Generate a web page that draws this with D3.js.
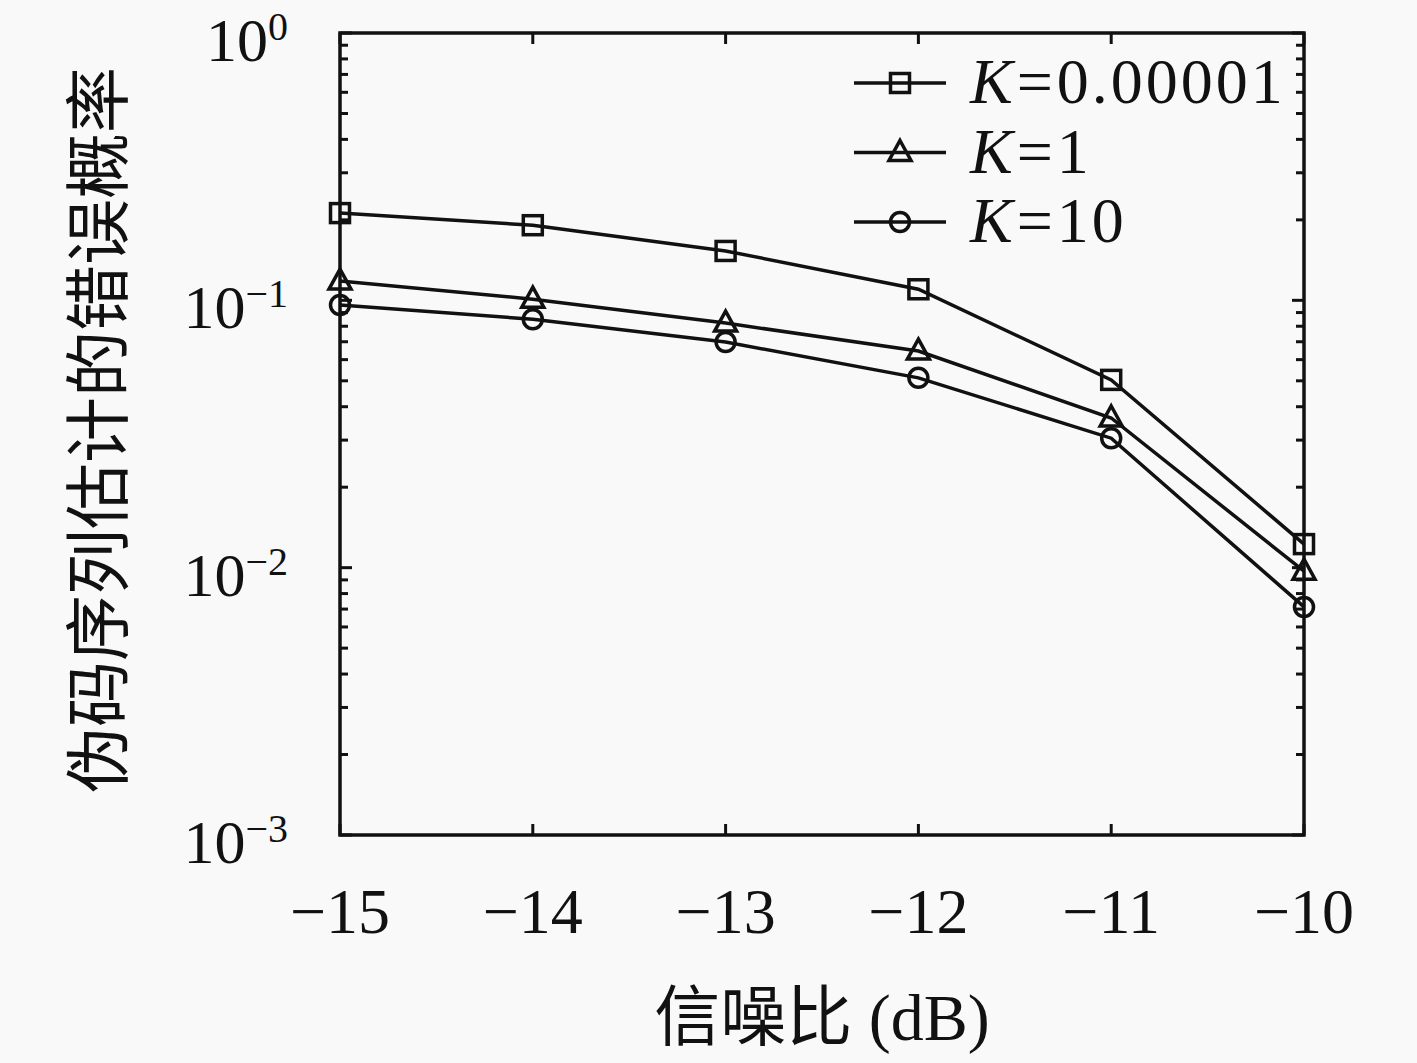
<!DOCTYPE html>
<html>
<head>
<meta charset="utf-8">
<script src="https://cdn.jsdelivr.net/npm/d3@7"></script>
<style>
  body { margin: 0; background: #f9f9f9; }
  text { fill: #111; }
</style>
</head>
<body>
<svg id="chart" width="1417" height="1063"></svg>
<script>
const snr = [-15, -14, -13, -12, -11, -10]
const kSmall = [0.212, 0.191, 0.153, 0.110, 0.0504, 0.01225]
const kOne = [0.118, 0.101, 0.0822, 0.0646, 0.0363, 0.0097]
const kTen = [0.096, 0.085, 0.0698, 0.0513, 0.0305, 0.00713]
const seriesNames = ["0.00001", "1", "10"]
const seriesShapes = ["square", "triangle", "circle"]
const yDecades = [0, -1, -2, -3]

const serif = "'Liberation Serif', 'DejaVu Serif', serif"
const cjk = "'Noto Sans CJK SC', sans-serif"
const ink = "#111"

const svg = d3.select("#chart")
const m = { left: 340, right: 1304, top: 33, bottom: 835 }

const x = d3.scaleLinear().domain([-15, -10]).range([m.left, m.right])
const y = d3.scaleLog().domain([1e-3, 1]).range([m.bottom, m.top])

// minor ticks on left/right, pointing in
const minor = []
for (let e = -3; e < 0; e++) for (let k = 2; k <= 9; k++) minor.push(k * Math.pow(10, e))

const g = svg.append("g")
const tick = (cls, data, x1, x2, y1, y2) =>
  g.selectAll("." + cls).data(data).enter().append("line")
    .attr("x1", x1).attr("x2", x2).attr("y1", y1).attr("y2", y2)
    .attr("stroke", ink).attr("stroke-width", 3)

tick("minorL", minor, m.left, m.left + 8, d => y(d), d => y(d))
tick("minorR", minor, m.right, m.right - 8, d => y(d), d => y(d))
tick("majorL", yDecades, m.left, m.left + 12, d => y(Math.pow(10, d)), d => y(Math.pow(10, d)))
tick("majorR", yDecades, m.right, m.right - 12, d => y(Math.pow(10, d)), d => y(Math.pow(10, d)))
tick("xtB", snr, d => x(d), d => x(d), m.bottom, m.bottom - 11)
tick("xtT", snr, d => x(d), d => x(d), m.top, m.top + 11)

// frame
g.append("rect")
  .attr("x", m.left).attr("y", m.top)
  .attr("width", m.right - m.left).attr("height", m.bottom - m.top)
  .attr("fill", "none").attr("stroke", ink).attr("stroke-width", 3.5)

// x tick labels
g.selectAll(".xl").data(snr).enter().append("text")
  .attr("x", d => x(d)).attr("y", 933)
  .attr("text-anchor", "middle")
  .style("font-family", serif).style("font-size", "64px")
  .text(d => "\u2212" + Math.abs(d))

// y tick labels 10^n
const yl = g.selectAll(".yl").data(yDecades).enter().append("text")
  .attr("x", 288).attr("y", d => y(Math.pow(10, d)) + 28)
  .attr("text-anchor", "end")
  .style("font-family", serif).style("font-size", "62px")
yl.append("tspan").text("10")
yl.append("tspan").attr("dy", -21).style("font-size", "40px")
  .text(d => d === 0 ? "0" : "\u2212" + Math.abs(d))

// axis titles
svg.append("text")
  .attr("transform", `translate(122, ${(m.top + m.bottom) / 2 - 4}) rotate(-90)`)
  .attr("text-anchor", "middle")
  .style("font-family", cjk).style("font-size", "66px")
  .text("伪码序列估计的错误概率")

const xt = svg.append("text")
  .attr("x", 822).attr("y", 1040)
  .attr("text-anchor", "middle")
  .style("font-size", "66px")
xt.append("tspan").style("font-family", cjk).text("信噪比")
xt.append("tspan").style("font-family", serif).text(" (dB)")

// series
const allSeries = [kSmall, kOne, kTen]
const line = d3.line().x((d, i) => x(snr[i])).y(d => y(d))

const drawMarker = (sel, shape) => {
  if (shape === "square") {
    sel.append("rect").attr("x", -9.5).attr("y", -9.5).attr("width", 19).attr("height", 19)
  } else if (shape === "triangle") {
    sel.append("path").attr("d", "M0,-12L11,8L-11,8Z")
  } else {
    sel.append("circle").attr("r", 9.5)
  }
  sel.selectAll("*").attr("fill", "none").attr("stroke", ink).attr("stroke-width", 3.5)
}

allSeries.forEach((vals, s) => {
  g.append("path").datum(vals)
    .attr("d", line)
    .attr("fill", "none").attr("stroke", ink).attr("stroke-width", 3.5)
  g.selectAll(".pt" + s).data(vals).enter().append("g")
    .attr("transform", (d, i) => `translate(${x(snr[i])},${y(d)})`)
    .each(function() { drawMarker(d3.select(this), seriesShapes[s]) })
})

// legend
const leg = svg.append("g")
seriesNames.forEach((name, i) => {
  const ly = 83 + i * 69.5
  leg.append("line").attr("x1", 854).attr("x2", 946).attr("y1", ly).attr("y2", ly)
    .attr("stroke", ink).attr("stroke-width", 3.5)
  const mk = leg.append("g").attr("transform", `translate(900,${ly})`)
  drawMarker(mk, seriesShapes[i])
  const t = leg.append("text").attr("x", 970).attr("y", ly + 20)
    .style("font-family", serif).style("font-size", "64px")
  t.append("tspan").style("font-style", "italic").text("K")
  t.append("tspan").attr("dx", 4).text("=")
  t.append("tspan").attr("dx", 4).style("letter-spacing", "3px").text(name)
})
</script>
</body>
</html>
